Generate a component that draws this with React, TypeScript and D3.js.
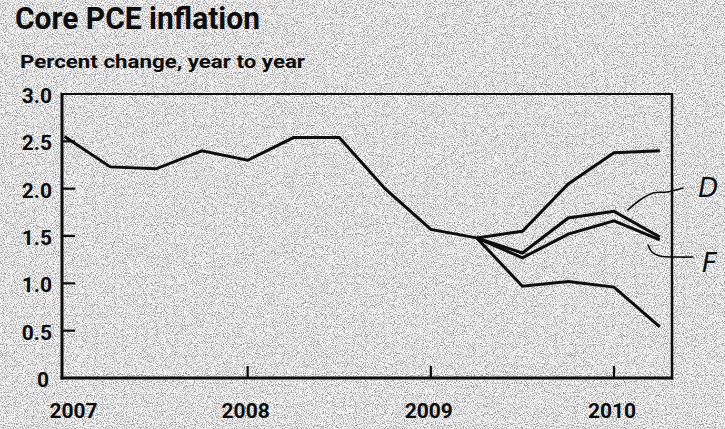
import React from "react";
import * as d3 from "d3";

const W = 725;
const H = 429;

// Quarters (decimal years)
const histQuarters = [2007, 2007.25, 2007.5, 2007.75, 2008, 2008.25, 2008.5, 2008.75, 2009, 2009.25];
const histValues = [2.55, 2.23, 2.21, 2.4, 2.3, 2.54, 2.54, 2.0, 1.57, 1.48];

const fcQuarters = [2009.25, 2009.5, 2009.75, 2010, 2010.25];
const scenarioHigh = [1.48, 1.55, 2.05, 2.38, 2.4];
const scenarioD = [1.48, 1.32, 1.69, 1.76, 1.49];
const scenarioF = [1.48, 1.27, 1.52, 1.66, 1.46];
const scenarioLow = [1.48, 0.97, 1.02, 0.96, 0.54];

const yTicks = [0, 0.5, 1.0, 1.5, 2.0, 2.5, 3.0];
const yTickLabels = ["0", "0.5", "1.0", "1.5", "2.0", "2.5", "3.0"];
const xTicks = [2007, 2008, 2009, 2010];
const xTickLabels = ["2007", "2008", "2009", "2010"];

// Hand-drawn annotations (data units)
const annD = [
  [2010.076, 1.775],
  [2010.142, 1.88],
  [2010.213, 1.954],
  [2010.289, 1.965],
  [2010.377, 2.007],
];
const annF = [
  [2010.186, 1.405],
  [2010.207, 1.331],
  [2010.251, 1.289],
  [2010.344, 1.278],
  [2010.431, 1.278],
];
const annDLabel = [2010.46, 1.91];
const annFLabel = [2010.48, 1.12];

export default function App() {
  const x = d3.scaleLinear().domain([2007, 2010]).range([64.5, 614]);
  const y = d3.scaleLinear().domain([0, 3]).range([378, 94]);
  const left = 62;
  const right = 672;

  const line = d3
    .line<[number, number]>()
    .x((d) => x(d[0]))
    .y((d) => y(d[1]))
    .curve(d3.curveLinear);
  const hand = d3
    .line<number[]>()
    .x((d) => x(d[0]))
    .y((d) => y(d[1]))
    .curve(d3.curveCatmullRom);

  const zip = (xs: number[], ys: number[]) => xs.map((v, i) => [v, ys[i]] as [number, number]);
  const series = [
    zip(histQuarters, histValues),
    zip(fcQuarters, scenarioHigh),
    zip(fcQuarters, scenarioD),
    zip(fcQuarters, scenarioF),
    zip(fcQuarters, scenarioLow),
  ];

  const ink = "#0d0d0d";
  const font = "'Liberation Sans Narrow', 'Roboto', 'Liberation Sans', sans-serif";

  return (
    <svg
      width={W}
      height={H}
      viewBox={`0 0 ${W} ${H}`}
      style={{ position: "absolute", left: 0, top: 0, display: "block" }}
    >
      <defs>
        <filter id="noise" x="0" y="0" width="100%" height="100%">
          <feTurbulence type="fractalNoise" baseFrequency="0.9" numOctaves="2" seed="7" result="t" />
          <feColorMatrix
            in="t"
            type="matrix"
            values="0 0 0 0 0  0 0 0 0 0  0 0 0 0 0  3.2 0 0 0 -1.4"
          />
        </filter>
      </defs>
      <rect x={0} y={0} width={W} height={H} fill="#f7f7f7" />
      <rect x={0} y={0} width={W} height={H} fill="#000" filter="url(#noise)" opacity={0.42} />

      {/* Title */}
      <text
        x={15}
        y={29}
        fontFamily={font}
        fontWeight="bold"
        fontSize={31}
        fill={ink}
        textLength={245}
        lengthAdjust="spacingAndGlyphs"
      >
        Core PCE inflation
      </text>
      <text
        x={20}
        y={68}
        fontFamily={font}
        fontWeight="bold"
        fontSize={19}
        fill={ink}
        textLength={285}
        lengthAdjust="spacingAndGlyphs"
      >
        Percent change, year to year
      </text>

      {/* Frame */}
      <line x1={left} x2={right} y1={y(3)} y2={y(3)} stroke={ink} strokeWidth={2.2} />
      <line x1={left} x2={left} y1={y(3) - 1} y2={y(0) + 1.5} stroke={ink} strokeWidth={3} />
      <line x1={right} x2={right} y1={y(3) - 1} y2={y(0) + 1.5} stroke={ink} strokeWidth={2.5} />
      <line x1={left - 1.5} x2={right + 1.2} y1={y(0)} y2={y(0)} stroke={ink} strokeWidth={3} />

      {/* Y ticks and labels */}
      {yTicks.map((t, i) => (
        <g key={"y" + i}>
          {t > 0 && t < 3 && (
            <line x1={left} x2={left + 13} y1={y(t)} y2={y(t)} stroke={ink} strokeWidth={2.2} />
          )}
          <text
            x={t === 0 ? 49 : 52}
            y={y(t) + 9}
            textAnchor="end"
            fontFamily={font}
            fontWeight="bold"
            fontSize={21}
            fill={ink}
          >
            {yTickLabels[i]}
          </text>
        </g>
      ))}

      {/* X ticks and labels */}
      {xTicks.map((t, i) => (
        <g key={"x" + i}>
          {i > 0 && (
            <line x1={x(t)} x2={x(t)} y1={y(0)} y2={y(0) - 12} stroke={ink} strokeWidth={2.2} />
          )}
          <text
            x={i === 0 ? x(t) + 9 : x(t) - 2}
            y={418}
            textAnchor="middle"
            fontFamily={font}
            fontWeight="bold"
            fontSize={21}
            fill={ink}
          >
            {xTickLabels[i]}
          </text>
        </g>
      ))}

      {/* Series */}
      {series.map((s, i) => (
        <path
          key={"s" + i}
          d={line(s) || ""}
          fill="none"
          stroke={ink}
          strokeWidth={3}
          strokeLinejoin="miter"
          strokeLinecap="butt"
        />
      ))}

      {/* Handwritten annotations */}
      <path d={hand(annD) || ""} fill="none" stroke={ink} strokeWidth={1.6} strokeLinecap="round" />
      <path d={hand(annF) || ""} fill="none" stroke={ink} strokeWidth={1.6} strokeLinecap="round" />
      <text
        x={x(annDLabel[0])}
        y={y(annDLabel[1])}
        fontFamily="'DejaVu Sans', sans-serif"
        fontWeight={200}
        fontStyle="italic"
        fontSize={26}
        fill={ink}
      >
        D
      </text>
      <text
        x={x(annFLabel[0])}
        y={y(annFLabel[1])}
        fontFamily="'DejaVu Sans', sans-serif"
        fontWeight={200}
        fontStyle="italic"
        fontSize={26}
        fill={ink}
      >
        F
      </text>
    </svg>
  );
}
